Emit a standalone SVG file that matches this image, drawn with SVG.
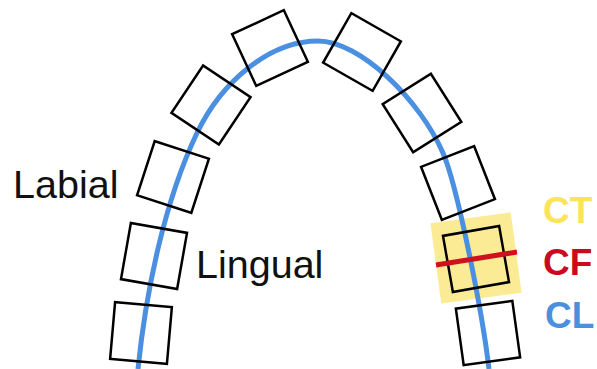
<svg xmlns="http://www.w3.org/2000/svg" width="597" height="369" viewBox="0 0 597 369">
<defs>
<style>
.tooth{fill:none;stroke:#000;stroke-width:2.5}
.lbl{font-family:"Liberation Sans",Arial,sans-serif;font-size:39.5px;fill:#111}
.key{font-family:"Liberation Sans",Arial,sans-serif;font-size:37px;font-weight:bold}
</style>
<rect id="sq" class="tooth" x="-28.5" y="-28.5" width="57" height="57"/>
</defs>
<rect width="597" height="369" fill="#fff"/>
<g id="ct-highlight">
<rect x="-40.5" y="-40.5" width="81" height="81" fill="#fbeb94" transform="translate(476,258) rotate(-7.7)"/>
</g>
<g id="connectors">
<path id="cl-curve" d="M138,369 C146,290 165,200 197,133 C222,81 270,41 318,41 C360,41 420,100 443,153 C457,185 482,310 489,369" fill="none" stroke="#4a8fe0" stroke-width="5"/>
</g>
<g id="teeth">
<g id="l1"><use href="#sq" transform="translate(141,333) rotate(5)"/></g>
<g id="l2"><use href="#sq" transform="translate(154,256) rotate(10)"/></g>
<g id="l3"><use href="#sq" transform="translate(173,177) rotate(18)"/></g>
<g id="l4"><use href="#sq" transform="translate(211,105) rotate(33.7)"/></g>
<g id="l5"><use href="#sq" transform="translate(270,48) rotate(-25)"/></g>
<g id="r1"><use href="#sq" transform="translate(362,52) rotate(29.7)"/></g>
<g id="r2"><use href="#sq" transform="translate(422,113) rotate(-32.3)"/></g>
<g id="r3"><use href="#sq" transform="translate(458,183) rotate(-21.4)"/></g>
<g id="r4"><use href="#sq" transform="translate(476,259) rotate(-10)"/></g>
<g id="r5"><use href="#sq" transform="translate(488,333) rotate(-7.9)"/></g>
</g>
<g id="cf-line">
<line x1="436" y1="265" x2="517" y2="252" stroke="#d0101e" stroke-width="5"/>
</g>
<g id="labels">
<text class="lbl" x="13" y="198">Labial</text>
<text class="lbl" x="196" y="278">Lingual</text>
<text class="key" x="543" y="223" fill="#fbe45a">CT</text>
<text class="key" x="543" y="275" fill="#cc0a1f">CF</text>
<text class="key" x="545" y="328" fill="#4a8fe0">CL</text>
</g>
</svg>
